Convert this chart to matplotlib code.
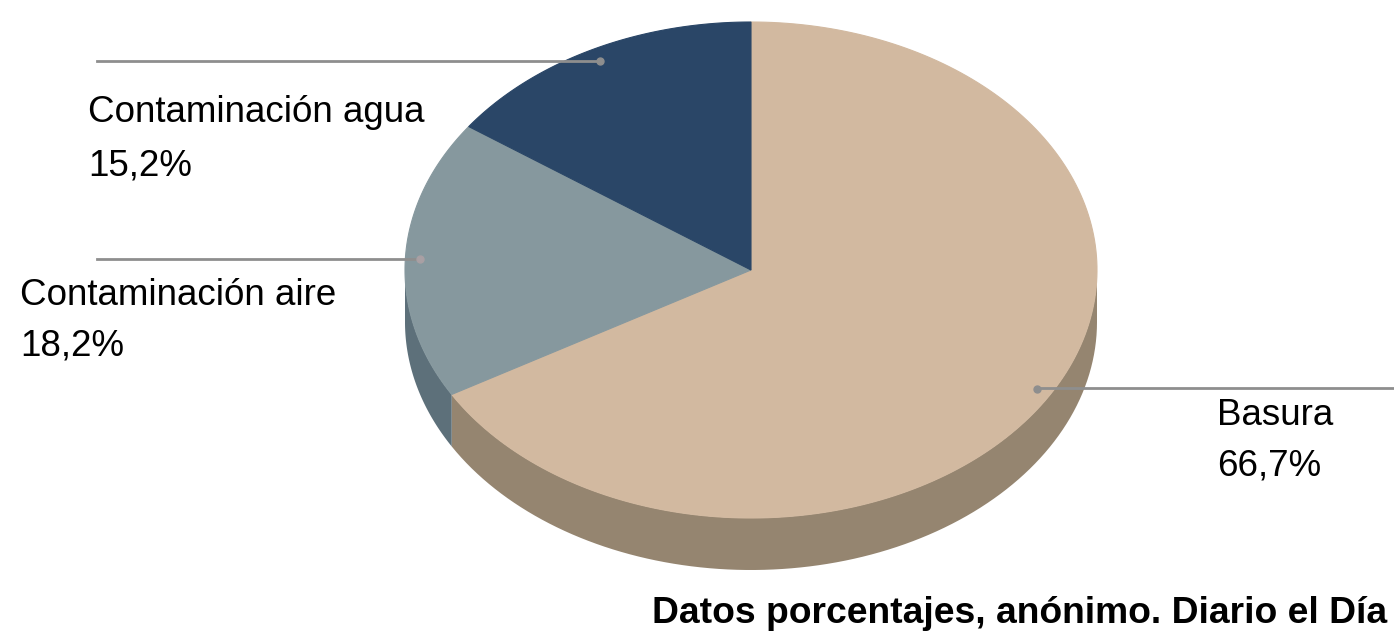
import numpy as np
import matplotlib.pyplot as plt

# Datos del gráfico (porcentajes)
categorias = ["Basura", "Contaminación aire", "Contaminación agua"]
valores = [66.7, 18.2, 15.2]
colores_top = ["#d2b9a0", "#86989e", "#2a4667"]
colores_lado = ["#958570", "#5d707a", "#1d3048"]
titulo = "Datos porcentajes, anónimo. Diario el Día"

plt.rcParams['font.family'] = ['Liberation Sans', 'DejaVu Sans']

fig = plt.figure(figsize=(13.94, 6.37), dpi=100)
ax = fig.add_axes([0, 0, 1, 1])
ax.set_xlim(0, 1394)
ax.set_ylim(637, 0)
ax.axis('off')

# geometria de la elipse (en pixeles)
cx, cy, rx, ry, prof = 751, 270, 346, 248, 52


def punto(t, dy=0):
    return cx + rx * np.cos(np.radians(t)), cy - ry * np.sin(np.radians(t)) + dy


# angulos: empieza arriba (90) y gira en sentido horario
total = sum(valores)
fr = np.array(valores) / total * 360
fin = 90 - np.cumsum(fr)
ini = np.concatenate([[90], fin[:-1]])

# lados (solo la parte frontal, angulos entre 180 y 360)
for a0, a1, c in zip(ini, fin, colores_lado):
    lo, hi = min(a0, a1), max(a0, a1)
    for desp in (0, -360, 360):
        l, h = max(lo + desp, 180), min(hi + desp, 360)
        if h > l:
            t = np.linspace(l, h, 100)
            x, y = punto(t)
            xb, yb = punto(t[::-1], prof)
            ax.fill(np.concatenate([x, xb]), np.concatenate([y, yb]),
                    color=c, lw=0)

# cara superior
for a0, a1, c in zip(ini, fin, colores_top):
    t = np.linspace(a0, a1, 200)
    x, y = punto(t)
    ax.fill(np.concatenate([[cx], x]), np.concatenate([[cy], y]),
            color=c, lw=0.8, ec=c)

# lineas guia y etiquetas
gris = "#8e8e8e"
# agua
ax.plot([97, 600], [61, 61], color=gris, lw=2)
ax.plot(600, 61, 'o', color=gris, ms=5)
ax.text(88, 122, categorias[2], fontsize=26.5, va='baseline')
ax.text(88, 175, f"{valores[2]:.1f}%".replace('.', ','), fontsize=26.5, va='baseline')
# aire
ax.plot([97, 420], [259, 259], color=gris, lw=2)
ax.plot(420, 259, 'o', color="#a9a0a4", ms=5)
ax.text(20, 305, categorias[1], fontsize=26.5, va='baseline')
ax.text(20, 355, f"{valores[1]:.1f}%".replace('.', ','), fontsize=26.5, va='baseline')
# basura
ax.plot([1037, 1394], [388, 388], color=gris, lw=2)
ax.plot(1037, 389, 'o', color=gris, ms=5)
ax.text(1217, 425, categorias[0], fontsize=26.5, va='baseline')
ax.text(1217, 475, f"{valores[0]:.1f}%".replace('.', ','), fontsize=26.5, va='baseline')

ax.text(652, 623, titulo, fontsize=26.8, fontweight='bold', va='baseline')

fig.savefig("out.png", dpi=100)
